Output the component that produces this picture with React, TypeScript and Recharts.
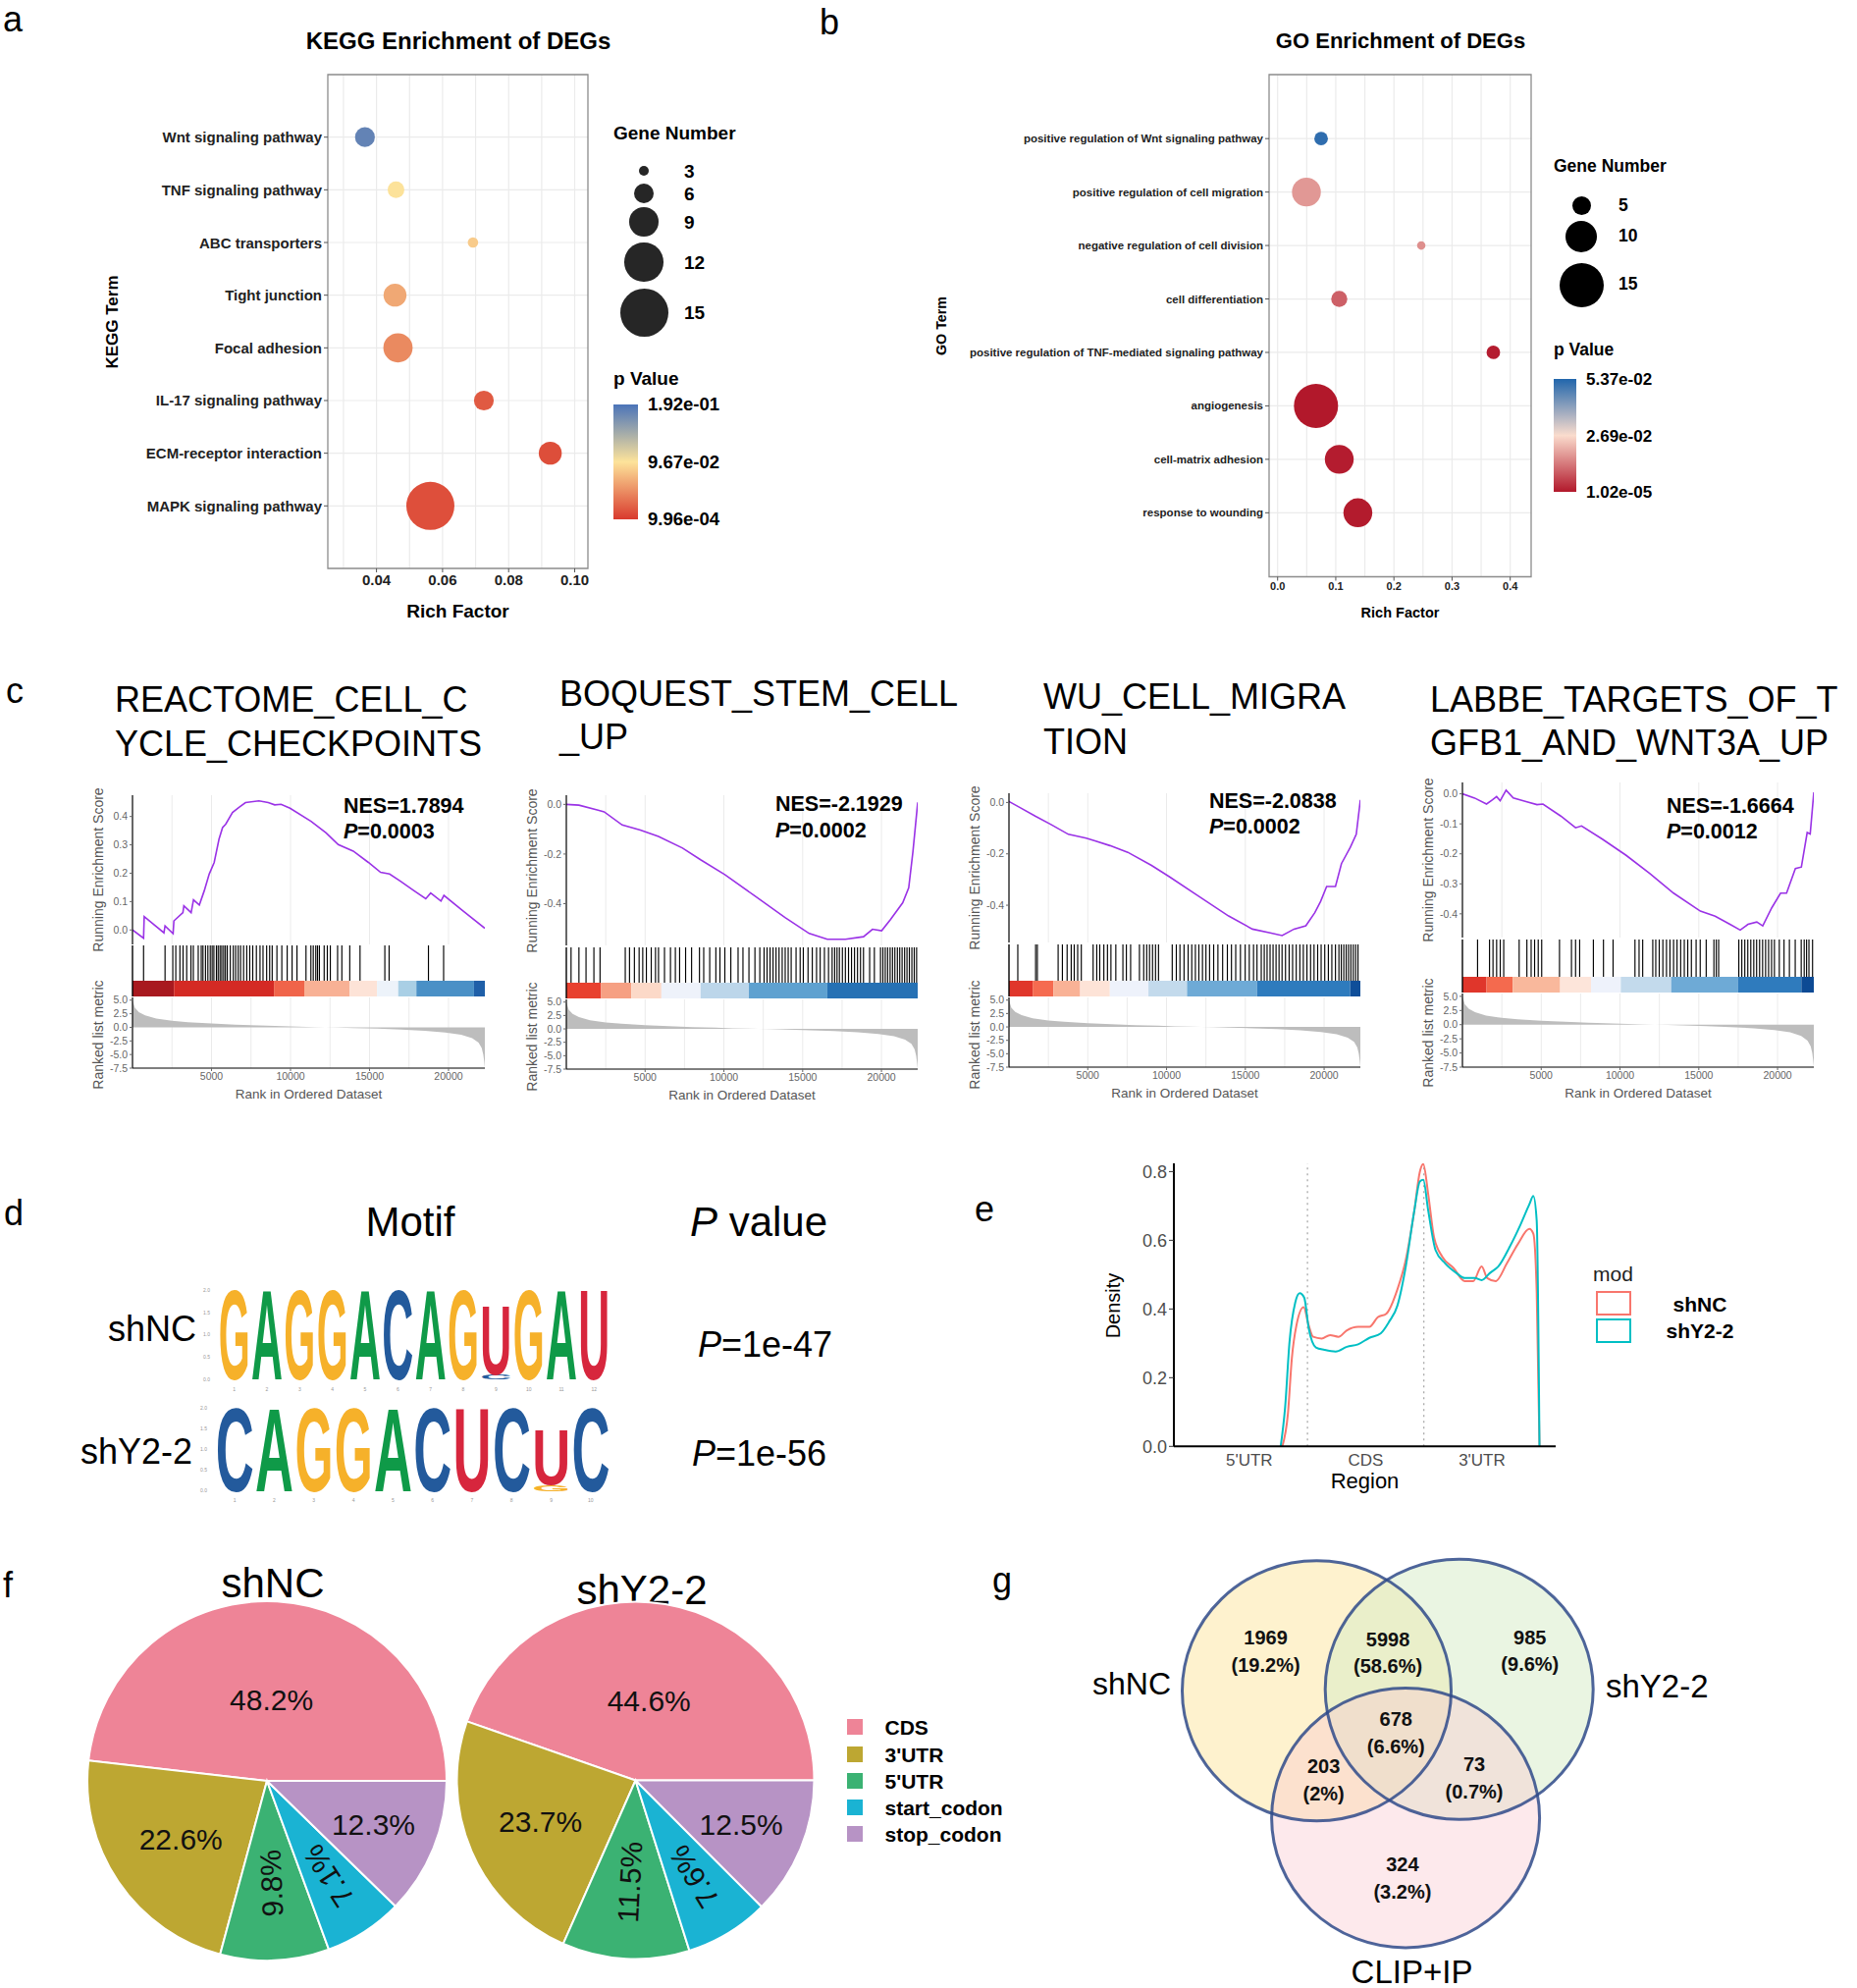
import React from 'react';
import {
  ScatterChart, Scatter, XAxis, YAxis, CartesianGrid, ReferenceArea, ReferenceLine,
  LineChart, Line, AreaChart, Area, BarChart, Bar, PieChart, Pie, Cell,
} from 'recharts';

const FONT = '"Liberation Sans", Arial, Helvetica, sans-serif';

// ---------- a: KEGG enrichment ----------
const keggTerms = ['Wnt signaling pathway', 'TNF signaling pathway', 'ABC transporters', 'Tight junction', 'Focal adhesion', 'IL-17 signaling pathway', 'ECM-receptor interaction', 'MAPK signaling pathway'];
const keggRich = [0.0365, 0.0459, 0.0692, 0.0456, 0.0465, 0.0725, 0.0926, 0.0563];
const keggGenes = [6, 5, 3, 7, 9, 6, 7, 15];
const keggP = [0.179, 0.097, 0.083, 0.063, 0.046, 0.019, 0.0125, 0.013];
const keggSizeLegend = [3, 6, 9, 12, 15];
const keggPLabels = ['1.92e-01', '9.67e-02', '9.96e-04'];

// ---------- b: GO enrichment ----------
const goTerms = ['positive regulation of Wnt signaling pathway', 'positive regulation of cell migration', 'negative regulation of cell division', 'cell differentiation', 'positive regulation of TNF-mediated signaling pathway', 'angiogenesis', 'cell-matrix adhesion', 'response to wounding'];
const goRich = [0.0748, 0.0495, 0.247, 0.106, 0.371, 0.066, 0.106, 0.138];
const goGenes = [3, 9, 1, 4, 3, 15, 9, 9];
const goP = [0.052, 0.0175, 0.0163, 0.0099, 0.0006, 0.00001, 0.0006, 0.0004];
const goSizeLegend = [5, 10, 15];
const goPLabels = ['5.37e-02', '2.69e-02', '1.02e-05'];

// ---------- c: GSEA ----------
const N_GENES = 22300;
const rankTicks = [5000, 10000, 15000, 20000];
const rankGrid = [2500, 5000, 7500, 10000, 12500, 15000, 17500, 20000];
// ranked list metric (same ranked list in all four plots)
const rankMetric = [[0, 5.0], [150, 3.6], [400, 2.8], [800, 2.2], [1500, 1.6], [2500, 1.2], [3500, 0.95], [5000, 0.7], [6500, 0.5], [8000, 0.35], [9500, 0.22], [10500, 0.12], [11500, 0.04], [12200, 0], [13000, -0.04], [14000, -0.12], [15500, -0.25], [17000, -0.42], [18500, -0.65], [19800, -0.95], [20800, -1.35], [21500, -2.0], [21900, -2.8], [22100, -3.8], [22200, -5.0], [22260, -6.3], [22300, -7.5]];

const reactomeES = [[0, 0], [700, -0.029], [740, 0.047], [1990, -0.01], [2060, 0.014], [2570, -0.013], [2620, 0.032], [3190, 0.061], [3250, 0.085], [3710, 0.061], [3860, 0.106], [4230, 0.088], [4540, 0.138], [4855, 0.197], [5170, 0.238], [5475, 0.32], [5700, 0.361], [5900, 0.373], [6330, 0.414], [6740, 0.432], [7150, 0.449], [8000, 0.455], [8590, 0.449], [9000, 0.441], [9400, 0.443], [9970, 0.429], [11300, 0.383], [12250, 0.342], [13020, 0.301], [13970, 0.278], [14930, 0.238], [15700, 0.203], [16270, 0.197], [16960, 0.172], [17800, 0.139], [18560, 0.11], [18870, 0.13], [19520, 0.102], [19710, 0.122], [20860, 0.07], [22300, 0.006]];
const reactomeHits = [700, 2060, 2550, 2740, 3000, 3200, 3430, 3700, 3850, 4160, 4350, 4460, 4620, 4770, 4920, 5040, 5150, 5310, 5420, 5540, 5650, 5770, 5880, 6000, 6190, 6380, 6530, 6690, 6840, 7030, 7230, 7420, 7610, 7840, 8070, 8260, 8490, 8680, 8840, 9140, 9450, 9790, 10100, 10410, 10980, 11290, 11440, 11600, 11710, 11830, 12130, 12330, 12520, 12980, 13250, 13750, 14400, 15970, 16240, 18730, 19690];
const reactomeEdges = [0, 2623, 8952, 10870, 13746, 15473, 16818, 17966, 21613, 22300];
const reactomeColors = ['#a8191f', '#d42a24', '#f0644a', '#f8b195', '#fde3d7', '#edf3fa', '#a9cfe5', '#4a90c6', '#1f5fa8'];

const boquestES = [[0, 0], [800, -0.003], [2016, -0.023], [2400, -0.03], [3545, -0.083], [4696, -0.103], [5847, -0.129], [7377, -0.176], [8521, -0.223], [10057, -0.283], [11967, -0.369], [13883, -0.456], [15413, -0.52], [16565, -0.543], [17708, -0.543], [18860, -0.533], [19430, -0.503], [20010, -0.509], [20580, -0.463], [21350, -0.396], [21730, -0.336], [22000, -0.189], [22300, 0.008]];
const boquestHits = [300, 800, 1250, 1750, 2140, 3740, 4010, 4320, 4620, 4850, 5080, 5390, 5660, 5850, 6230, 6610, 6920, 7190, 7570, 7950, 8450, 8720, 9100, 9490, 9750, 10060, 10440, 10900, 11210, 11590, 11970, 12280, 12550, 12740, 12930, 13120, 13310, 13500, 13700, 13890, 14080, 14270, 14580, 14840, 15040, 15340, 15610, 15880, 16110, 16380, 16640, 16870, 17030, 17180, 17330, 17520, 17710, 17910, 18100, 18290, 18480, 18670, 18860, 19250, 19550, 19940, 20090, 20240, 20390, 20550, 20700, 20850, 21010, 21160, 21310, 21470, 21620, 21770, 21930, 22080, 22230];
const boquestEdges = [0, 2208, 4124, 6033, 8521, 11588, 16564, 22300];
const boquestColors = ['#e8412f', '#f6a083', '#fcd9c8', '#eef2fa', '#bcd6ea', '#5ea1d0', '#2671b4'];

const wuES = [[0, 0.004], [674, -0.019], [1690, -0.054], [2640, -0.085], [3770, -0.124], [4900, -0.139], [5460, -0.149], [6410, -0.168], [7540, -0.194], [9045, -0.245], [10175, -0.289], [12060, -0.366], [13940, -0.442], [15450, -0.493], [16580, -0.508], [17335, -0.518], [18090, -0.493], [18840, -0.48], [19410, -0.429], [19780, -0.385], [20160, -0.327], [20720, -0.327], [21100, -0.238], [21660, -0.175], [22040, -0.124], [22300, 0.01]];
const wuHits = [560, 1690, 1800, 3120, 3390, 3690, 3950, 4140, 4360, 4590, 5340, 5570, 5760, 6020, 6250, 6470, 6780, 7230, 7450, 7720, 8280, 8550, 8740, 8920, 9110, 9300, 9490, 10360, 10620, 10850, 11110, 11370, 11600, 11830, 12050, 12280, 12500, 12730, 12990, 13260, 13560, 13860, 14120, 14390, 14690, 14990, 15250, 15520, 15740, 16010, 16200, 16380, 16570, 16760, 16950, 17140, 17330, 17550, 17780, 18000, 18230, 18460, 18680, 18910, 19140, 19360, 19590, 19810, 20040, 20270, 20490, 20720, 20940, 21090, 21250, 21400, 21550, 21700, 21850, 22000, 22150];
const wuEdges = [0, 1504, 2820, 4517, 6400, 8850, 11300, 15740, 21660, 22300];
const wuColors = ['#e0362b', '#f56b50', '#f9b296', '#fde3d7', '#eef2fb', '#c3daec', '#6eaad6', '#2e7bbd', '#0f4e99'];

const labbeES = [[0, 0], [774, -0.014], [1530, -0.034], [1910, -0.02], [2170, -0.009], [2395, -0.023], [2770, 0.012], [3225, -0.014], [3980, -0.025], [4730, -0.036], [5110, -0.034], [6240, -0.074], [7180, -0.113], [7560, -0.107], [8880, -0.151], [10390, -0.205], [11900, -0.266], [13400, -0.331], [15100, -0.391], [16040, -0.408], [16980, -0.435], [17630, -0.454], [18120, -0.435], [18680, -0.427], [19060, -0.44], [19630, -0.38], [20190, -0.331], [20570, -0.331], [21130, -0.249], [21510, -0.244], [21880, -0.129], [22070, -0.134], [22300, 0.005]];
const labbeHits = [960, 1720, 1940, 2170, 2400, 2620, 3600, 4090, 4360, 4580, 4810, 5030, 6160, 6920, 7180, 7440, 8310, 8950, 9560, 10950, 11210, 11440, 12080, 12270, 12490, 12720, 12950, 13170, 13400, 13620, 13850, 14080, 14300, 14530, 14830, 15090, 15470, 15960, 16110, 16260, 17540, 17730, 17920, 18110, 18300, 18490, 18670, 18860, 19050, 19240, 19430, 19620, 19800, 20110, 20410, 20750, 21120, 21500, 21690, 21840, 21990, 22220];
const labbeEdges = [0, 1530, 3190, 6200, 8160, 10050, 13250, 17500, 21510, 22300];
const labbeColors = ['#e0362b', '#f46a4e', '#f9b89c', '#fde5da', '#eef2fb', '#c3daec', '#6eaad6', '#2f7bbd', '#0d4a94'];

// ---------- d: motifs ----------
const ncLetters = ['G', 'A', 'G', 'G', 'A', 'C', 'A', 'G', 'U', 'G', 'A', 'U'];
const ncHeights = [2, 2, 2, 2, 2, 2, 2, 2, 1.53, 2, 2, 2];
const ncMinorLetters = ['', '', '', '', '', '', '', '', 'C', '', '', ''];
const ncMinorHeights = [0, 0, 0, 0, 0, 0, 0, 0, 0.11, 0, 0, 0];
const y2Letters = ['C', 'A', 'G', 'G', 'A', 'C', 'U', 'C', 'U', 'C'];
const y2Heights = [2, 2, 2, 2, 2, 2, 2, 2, 1.33, 2];
const y2MinorLetters = ['', '', '', '', '', '', '', '', 'G', ''];
const y2MinorHeights = [0, 0, 0, 0, 0, 0, 0, 0, 0.16, 0];

// ---------- e: metagene density ----------
const regionNames = ["5'UTR", 'CDS', "3'UTR"];
const ncDensity = [[0.784, 0], [0.832, 0.095], [0.866, 0.257], [0.905, 0.352], [0.967, 0.405], [1.011, 0.352], [1.049, 0.319], [1.122, 0.314], [1.194, 0.324], [1.266, 0.319], [1.339, 0.338], [1.435, 0.348], [1.532, 0.348], [1.604, 0.376], [1.677, 0.386], [1.773, 0.457], [1.845, 0.543], [1.918, 0.686], [1.966, 0.8], [1.995, 0.822], [2.038, 0.733], [2.087, 0.61], [2.159, 0.552], [2.256, 0.519], [2.352, 0.481], [2.424, 0.481], [2.497, 0.524], [2.545, 0.49], [2.618, 0.481], [2.714, 0.533], [2.81, 0.59], [2.907, 0.633], [2.941, 0.619], [2.97, 0.448], [2.994, 0]];
const y2Density = [[0.77, 0], [0.808, 0.114], [0.846, 0.305], [0.895, 0.419], [0.933, 0.446], [0.972, 0.433], [1.011, 0.343], [1.073, 0.288], [1.146, 0.281], [1.242, 0.276], [1.339, 0.29], [1.435, 0.297], [1.532, 0.316], [1.629, 0.329], [1.7, 0.362], [1.773, 0.41], [1.845, 0.524], [1.918, 0.686], [1.966, 0.771], [1.995, 0.776], [2.038, 0.686], [2.101, 0.571], [2.183, 0.533], [2.279, 0.505], [2.352, 0.49], [2.439, 0.49], [2.497, 0.484], [2.569, 0.505], [2.641, 0.524], [2.738, 0.581], [2.834, 0.648], [2.907, 0.705], [2.941, 0.729], [2.97, 0.657], [2.994, 0]];

// ---------- f: peak distribution ----------
const pieCats = ['CDS', "3'UTR", "5'UTR", 'start_codon', 'stop_codon'];
const shNCPie = [48.2, 22.6, 9.8, 7.1, 12.3];
const shY2Pie = [44.6, 23.7, 11.5, 7.6, 12.5];

// ---------- g: venn ----------
const vennSets = ['shNC', 'shY2-2', 'CLIP+IP'];
const vennCounts = [1969, 5998, 985, 678, 203, 73, 324];
const vennPct = ['19.2%', '58.6%', '9.6%', '6.6%', '2%', '0.7%', '3.2%'];

// ---------- styling / layout ----------
const KEGG_STOPS: [number, string][] = [[0, '#d93a2d'], [0.5, '#fde39a'], [1, '#4b74b9']];
const GO_STOPS: [number, string][] = [[0, '#b2182b'], [0.5, '#fadccd'], [1, '#2166ac']];
const LETTER_COLORS: Record<string, string> = { G: '#f6b12a', A: '#0f9a48', C: '#235a9c', U: '#d7263d' };
const PIE_COLORS = ['#ee8497', '#bda732', '#3bb273', '#1ab3d3', '#b793c5'];
const PIE_LABEL_R = [0.45, 0.58, 0.57, 0.63, 0.64];
const PIE_ROTATED = [false, false, true, true, false];
const PURPLE = '#9a32e6';
const VENN_ELLIPSES = [
  { x: 161.5, y: 152.3, rx: 137, ry: 132.5, fill: '#fde8a6', alpha: 0.55 },
  { x: 306.7, y: 150.8, rx: 136.5, ry: 132.5, fill: '#d6ebc6', alpha: 0.5 },
  { x: 252.1, y: 281.7, rx: 136.5, ry: 132.3, fill: '#f9c7d0', alpha: 0.4 },
];
const VENN_LABEL_POS = [[109.6, 112], [234.1, 113.3], [378.8, 111.2], [242.3, 194.5], [168.6, 243], [322, 240.8], [248.9, 342.5]];

const f1 = (v: number) => v.toFixed(1);
const hex = (h: string) => [1, 3, 5].map((i) => parseInt(h.slice(i, i + 2), 16));
function rampColor(stops: [number, string][], t: number) {
  const c = Math.max(0, Math.min(1, t));
  for (let i = 1; i < stops.length; i++) {
    if (c <= stops[i][0]) {
      const [t0, a] = stops[i - 1];
      const [t1, b] = stops[i];
      const k = (c - t0) / (t1 - t0);
      const A = hex(a), B = hex(b);
      return `rgb(${A.map((v, j) => Math.round(v + (B[j] - v) * k)).join(',')})`;
    }
  }
  return stops[stops.length - 1][1];
}

const Txt = ({ x, y, size, children, bold, italic, align = 'left', color = '#000', rotate = 0 }: any) => {
  const tx = align === 'left' ? '0%' : align === 'center' ? '-50%' : '-100%';
  return (
    <div style={{
      position: 'absolute', left: x, top: y, fontSize: size, lineHeight: 1, whiteSpace: 'nowrap',
      fontWeight: bold ? 700 : 400, fontStyle: italic ? 'italic' : 'normal', color,
      transform: `translate(${tx},-50%)${rotate ? ` rotate(${rotate}deg)` : ''}`,
    }}>{children}</div>
  );
};

// ---------- bubble plot (a, b) ----------
function BubblePanel(b: any) {
  const data = b.terms.map((t: string, i: number) => ({ term: t, row: i, rich: b.rich[i], genes: b.genes[i], p: b.p[i] }));
  const rows = b.terms.map((_: string, i: number) => i);
  const yDom = [-b.rowPad, b.terms.length - 1 + b.rowPad];
  return (
    <div style={{ position: 'absolute', left: b.left, top: b.top }}>
      <ScatterChart width={b.yAxisW + b.plotW + 10} height={10 + b.plotH + 30} margin={{ top: 10, right: 10, bottom: 0, left: 0 }}>
        <CartesianGrid stroke="#ebebeb" strokeWidth={1.2} verticalValues={b.xGrid} horizontalValues={rows} />
        <XAxis type="number" dataKey="rich" domain={b.xDomain} allowDataOverflow ticks={b.xTicks} interval={0}
          tickFormatter={(v: number) => v.toFixed(b.xDigits)} height={30} axisLine={false} tickSize={4}
          tickLine={{ stroke: '#555' }} tick={{ fontSize: b.xTickFont, fontWeight: 700, fill: '#222' }} />
        <YAxis type="number" dataKey="row" domain={yDom} reversed allowDataOverflow ticks={rows} interval={0}
          width={b.yAxisW} axisLine={false} tickSize={4} tickLine={{ stroke: '#555' }}
          tick={(tp: any) => (
            <text x={tp.x} y={tp.y} textAnchor="end" dominantBaseline="central" fontSize={b.tickFont} fontWeight={700} fill="#222">
              {b.terms[tp.payload.value]}
            </text>
          )} />
        <ReferenceArea x1={b.xDomain[0]} x2={b.xDomain[1]} y1={yDom[0]} y2={yDom[1]} fill="none" fillOpacity={0}
          stroke="#8c8c8c" strokeWidth={1.3} ifOverflow="visible" />
        <Scatter data={data} isAnimationActive={false}
          shape={(pp: any) => (
            <circle cx={pp.cx} cy={pp.cy} r={b.diam(pp.payload.genes) / 2}
              fill={rampColor(b.stops, (pp.payload.p - b.pMin) / (b.pMax - b.pMin))} />
          )} />
      </ScatterChart>
    </div>
  );
}

function BubbleLegend(l: any) {
  return (
    <>
      <Txt x={l.x} y={l.titleY} size={l.font} bold>Gene Number</Txt>
      {l.sizes.map((s: number, i: number) => {
        const d = l.diam(s);
        return (
          <React.Fragment key={s}>
            <div style={{ position: 'absolute', left: l.cx - d / 2, top: l.cys[i] - d / 2, width: d, height: d, borderRadius: '50%', background: l.dot }} />
            <Txt x={l.labelX} y={l.cys[i]} size={l.font} bold>{s}</Txt>
          </React.Fragment>
        );
      })}
      <Txt x={l.x} y={l.pTitleY} size={l.font} bold>p Value</Txt>
      <div style={{
        position: 'absolute', left: l.x, top: l.barTop, width: l.barW, height: l.barBottom - l.barTop,
        background: `linear-gradient(to top, ${l.stops.map((s: any) => s[1]).join(', ')})`,
      }} />
      {l.pLabels.map((t: string, i: number) => (
        <Txt key={t} x={l.x + l.barW + 10} y={l.barTop + ((l.barBottom - l.barTop) * i) / 2} size={l.font - 0.5} bold>{t}</Txt>
      ))}
    </>
  );
}

// ---------- GSEA plot (c) ----------
const YW = 34;
const PAD = 8;
const axisTick = { fontSize: 10.5, fill: '#666' };
const metricRows = rankMetric.map(([rank, m]) => ({ rank, m }));

function GseaPlot({ g }: any) {
  const w = g.right - g.left + YW;
  const esRows = g.es.map(([rank, es]: number[]) => ({ rank, es }));
  const hitRows = g.hits.map((rank: number) => ({ rank, y: 1 }));
  const bands = g.colors.map((c: string, i: number) => ({ x1: g.edges[i], x2: g.edges[i + 1], c }));
  const midH = g.barBottom - g.hitTop;
  const hitH = g.barTop - g.hitTop;
  const bandTop = (g.barBottom - g.barTop) / midH;
  return (
    <>
      <Txt x={g.titleX} y={g.titleY[0]} size={36}>{g.title[0]}</Txt>
      <Txt x={g.titleX} y={g.titleY[1]} size={36}>{g.title[1]}</Txt>
      <div style={{ position: 'absolute', left: g.left - YW, top: g.esTop - PAD }}>
        <LineChart width={w} height={g.esBottom - g.esTop + PAD} data={esRows} margin={{ top: PAD, right: 0, bottom: 0, left: 0 }}>
          <CartesianGrid horizontal={false} stroke="#ebebeb" verticalValues={rankGrid} />
          <XAxis type="number" dataKey="rank" domain={[0, N_GENES]} ticks={rankGrid} allowDataOverflow hide />
          <YAxis type="number" domain={g.esDomain} ticks={g.esTicks} interval={0} allowDataOverflow width={YW}
            tickFormatter={f1} tick={axisTick} tickSize={3} tickLine={{ stroke: '#666' }} axisLine={{ stroke: '#000', strokeWidth: 1.2 }} />
          <Line type="linear" dataKey="es" stroke={PURPLE} strokeWidth={1.6} dot={false} isAnimationActive={false} />
        </LineChart>
      </div>
      <div style={{ position: 'absolute', left: g.left - YW, top: g.hitTop }}>
        <ScatterChart width={w} height={midH} margin={{ top: 0, right: 0, bottom: 0, left: YW }}>
          <XAxis type="number" dataKey="rank" domain={[0, N_GENES]} allowDataOverflow hide />
          <YAxis type="number" dataKey="y" domain={[0, 1]} allowDataOverflow hide />
          <ReferenceLine x={0} stroke="#000" strokeWidth={1.4} ifOverflow="visible" />
          {bands.map((bd: any) => (
            <ReferenceArea key={bd.x1} x1={bd.x1} x2={bd.x2} y1={0} y2={bandTop} fill={bd.c} fillOpacity={1} stroke="none" ifOverflow="visible" />
          ))}
          <Scatter data={hitRows} isAnimationActive={false}
            shape={(pp: any) => <line x1={pp.cx} x2={pp.cx} y1={pp.cy} y2={pp.cy + hitH} stroke="#000" strokeWidth={1.15} />} />
        </ScatterChart>
      </div>
      <div style={{ position: 'absolute', left: g.left - YW, top: g.metTop - PAD }}>
        <AreaChart width={w} height={g.metBottom - g.metTop + 18 + PAD} data={metricRows} margin={{ top: PAD, right: 0, bottom: 0, left: 0 }}>
          <CartesianGrid horizontal={false} stroke="#ebebeb" verticalValues={rankGrid} />
          <XAxis type="number" dataKey="rank" domain={[0, N_GENES]} allowDataOverflow ticks={rankTicks} interval={0} height={18}
            tick={axisTick} tickSize={3} tickLine={{ stroke: '#666' }} axisLine={{ stroke: '#000', strokeWidth: 1.2 }} />
          <YAxis type="number" domain={[-7.5, 5.5]} allowDataOverflow ticks={[5, 2.5, 0, -2.5, -5, -7.5]} interval={0} width={YW}
            tickFormatter={f1} tick={axisTick} tickSize={3} tickLine={{ stroke: '#666' }} axisLine={{ stroke: '#000', strokeWidth: 1.2 }} />
          <Area type="linear" dataKey="m" stroke="none" fill="#bdbdbd" fillOpacity={1} baseValue={0} isAnimationActive={false} />
        </AreaChart>
      </div>
      <Txt x={g.left - 35} y={(g.esTop + g.esBottom) / 2} size={14} align="center" rotate={-90} color="#555">Running Enrichment Score</Txt>
      <Txt x={g.left - 35} y={(g.metTop + g.metBottom) / 2 + 2} size={14} align="center" rotate={-90} color="#555">Ranked list metric</Txt>
      <Txt x={(g.left + g.right) / 2} y={g.metBottom + 26.5} size={13.5} align="center" color="#555">Rank in Ordered Dataset</Txt>
      <Txt x={g.nesX} y={g.nesY} size={21.5} bold>{g.nes}</Txt>
      <Txt x={g.nesX} y={g.nesY + 26.5} size={21.5} bold><i>P</i>{g.p}</Txt>
    </>
  );
}

const gseaPlots = [
  { title: ['REACTOME_CELL_C', 'YCLE_CHECKPOINTS'], titleX: 117, titleY: [713, 758], nes: 'NES=1.7894', p: '=0.0003', nesX: 350, nesY: 821.5,
    left: 135, right: 494, esTop: 810, esBottom: 962, hitTop: 963, barTop: 999, barBottom: 1015, metTop: 1016, metBottom: 1088,
    esDomain: [-0.051, 0.475], esTicks: [0, 0.1, 0.2, 0.3, 0.4], es: reactomeES, hits: reactomeHits, edges: reactomeEdges, colors: reactomeColors },
  { title: ['BOQUEST_STEM_CELL', '_UP'], titleX: 570, titleY: [707, 751], nes: 'NES=-2.1929', p: '=0.0002', nesX: 790, nesY: 820,
    left: 577, right: 935, esTop: 810, esBottom: 963, hitTop: 965, barTop: 1001, barBottom: 1017, metTop: 1018, metBottom: 1089,
    esDomain: [-0.568, 0.037], esTicks: [0, -0.2, -0.4], es: boquestES, hits: boquestHits, edges: boquestEdges, colors: boquestColors },
  { title: ['WU_CELL_MIGRA', 'TION'], titleX: 1063, titleY: [710, 755.5], nes: 'NES=-2.0838', p: '=0.0002', nesX: 1232, nesY: 816.5,
    left: 1028, right: 1386, esTop: 808, esBottom: 960, hitTop: 962, barTop: 999, barBottom: 1015, metTop: 1016, metBottom: 1087,
    esDomain: [-0.545, 0.036], esTicks: [0, -0.2, -0.4], es: wuES, hits: wuHits, edges: wuEdges, colors: wuColors },
  { title: ['LABBE_TARGETS_OF_T', 'GFB1_AND_WNT3A_UP'], titleX: 1457, titleY: [713, 756.5], nes: 'NES=-1.6664', p: '=0.0012', nesX: 1698, nesY: 821.5,
    left: 1490, right: 1848, esTop: 797, esBottom: 955, hitTop: 957, barTop: 995, barBottom: 1011, metTop: 1012, metBottom: 1087,
    esDomain: [-0.479, 0.038], esTicks: [0, -0.1, -0.2, -0.3, -0.4], es: labbeES, hits: labbeHits, edges: labbeEdges, colors: labbeColors },
];

// ---------- motif logo (d) ----------
const letterShape = (which: 'major' | 'minor') => (pp: any) => {
  const { x, y, width, height, payload } = pp;
  const ch = payload[which];
  if (!ch || !height || height <= 0) return <g />;
  return (
    <text x={0} y={0} fontSize={100} fontWeight={700} textLength={100} lengthAdjust="spacingAndGlyphs"
      fill={LETTER_COLORS[ch]} transform={`translate(${x},${y + height}) scale(${width / 100},${height / 70})`}>{ch}</text>
  );
};

const LOGO_TOP = 32;
const LOGO_BOTTOM = 24;
function Logo({ letters, heights, minor, minorH, left, top, plotW, plotH }: any) {
  const rows = letters.map((l: string, i: number) => ({ pos: i + 1, major: l, majorH: heights[i], minor: minor[i], minorH: minorH[i] }));
  const tiny = { fontSize: 5, fill: '#999' };
  return (
    <div style={{ position: 'absolute', left, top: top - LOGO_TOP }}>
      <BarChart width={22 + plotW} height={plotH + 12 + LOGO_TOP + LOGO_BOTTOM} data={rows} barCategoryGap="2%"
        margin={{ top: LOGO_TOP, right: 0, bottom: LOGO_BOTTOM, left: 0 }}>
        <XAxis dataKey="pos" height={12} axisLine={false} tickLine={false} tick={tiny} interval={0} />
        <YAxis type="number" domain={[0, 2]} ticks={[0, 0.5, 1, 1.5, 2]} width={22} axisLine={false} tickLine={false} tick={tiny} tickFormatter={f1} />
        <Bar dataKey="minorH" stackId="s" isAnimationActive={false} shape={letterShape('minor')} />
        <Bar dataKey="majorH" stackId="s" isAnimationActive={false} shape={letterShape('major')} />
      </BarChart>
    </div>
  );
}

// ---------- pie labels (f) ----------
const pieLabel = (pp: any) => {
  const RAD = Math.PI / 180;
  const r = pp.outerRadius * PIE_LABEL_R[pp.index];
  const x = pp.cx + r * Math.cos(-pp.midAngle * RAD);
  const y = pp.cy + r * Math.sin(-pp.midAngle * RAD);
  const rot = PIE_ROTATED[pp.index] ? 180 - pp.midAngle : 0;
  return (
    <text x={x} y={y} transform={`rotate(${rot},${x},${y})`} textAnchor="middle" dominantBaseline="central"
      fontSize={30} fill="#111">{`${pp.value}%`}</text>
  );
};

export default function App() {
  const ncPieRows = pieCats.map((name, i) => ({ name, value: shNCPie[i] }));
  const y2PieRows = pieCats.map((name, i) => ({ name, value: shY2Pie[i] }));
  const ncDensRows = ncDensity.map(([x, d]) => ({ x, d }));
  const y2DensRows = y2Density.map(([x, d]) => ({ x, d }));
  const vennShapes = vennSets.map((name, i) => ({ name, ...VENN_ELLIPSES[i] }));
  const vennRegions = vennCounts.map((n, i) => ({ n, pct: vennPct[i], x: VENN_LABEL_POS[i][0], y: VENN_LABEL_POS[i][1] }));
  const kDiam = (n: number) => 1 + 3.2 * n;
  const gDiam = (n: number) => 6 + 2.6 * n;

  return (
    <div style={{ position: 'absolute', left: 0, top: 0, width: 1892, height: 2025, background: '#fff', fontFamily: FONT, overflow: 'hidden' }}>
      {/* panel letters */}
      <Txt x={13} y={19.5} size={36} align="center">a</Txt>
      <Txt x={845} y={22.5} size={36} align="center">b</Txt>
      <Txt x={15} y={704} size={36} align="center">c</Txt>
      <Txt x={14} y={1236} size={36} align="center">d</Txt>
      <Txt x={1003} y={1232} size={36} align="center">e</Txt>
      <Txt x={8} y={1615} size={36} align="center">f</Txt>
      <Txt x={1021} y={1610} size={36} align="center">g</Txt>

      {/* a */}
      <Txt x={467} y={42} size={24} bold align="center">KEGG Enrichment of DEGs</Txt>
      <BubblePanel terms={keggTerms} rich={keggRich} genes={keggGenes} p={keggP} pMin={9.96e-4} pMax={0.192} stops={KEGG_STOPS}
        diam={kDiam} left={130} top={66} yAxisW={204} plotW={265} plotH={503} rowPad={1.187}
        xDomain={[0.02526, 0.104]} xTicks={[0.04, 0.06, 0.08, 0.1]} xGrid={[0.03, 0.04, 0.05, 0.06, 0.07, 0.08, 0.09, 0.1]}
        xDigits={2} tickFont={15} xTickFont={15} />
      <Txt x={466.5} y={621.5} size={19} bold align="center">Rich Factor</Txt>
      <Txt x={114} y={328} size={17} bold align="center" rotate={-90}>KEGG Term</Txt>
      <BubbleLegend x={625} titleY={134.5} font={19} sizes={keggSizeLegend} diam={kDiam} cx={656} cys={[174, 197, 226, 267, 318]}
        labelX={697} dot="#262626" pTitleY={385} barTop={412} barBottom={529} barW={25} stops={KEGG_STOPS} pLabels={keggPLabels} />

      {/* b */}
      <Txt x={1427} y={42} size={22} bold align="center">GO Enrichment of DEGs</Txt>
      <BubblePanel terms={goTerms} rich={goRich} genes={goGenes} p={goP} pMin={1.02e-5} pMax={5.37e-2} stops={GO_STOPS}
        diam={gDiam} left={968} top={66} yAxisW={325} plotW={267} plotH={511.5} rowPad={1.197}
        xDomain={[-0.0147, 0.436]} xTicks={[0, 0.1, 0.2, 0.3, 0.4]} xGrid={[0, 0.05, 0.1, 0.15, 0.2, 0.25, 0.3, 0.35, 0.4]}
        xDigits={1} tickFont={11.5} xTickFont={11} />
      <Txt x={1426.5} y={623.5} size={14.5} bold align="center">Rich Factor</Txt>
      <Txt x={959} y={332} size={14.3} bold align="center" rotate={-90}>GO Term</Txt>
      <BubbleLegend x={1583} titleY={170} font={17.5} sizes={goSizeLegend} diam={gDiam} cx={1611} cys={[209.6, 241, 290]}
        labelX={1649} dot="#000" pTitleY={357} barTop={386} barBottom={501} barW={23} stops={GO_STOPS} pLabels={goPLabels} />

      {/* c */}
      {gseaPlots.map((g) => <GseaPlot key={g.title[0]} g={g} />)}

      {/* d */}
      <Txt x={418} y={1244.5} size={42} align="center">Motif</Txt>
      <Txt x={773} y={1244.5} size={42} align="center"><i>P</i> value</Txt>
      <Logo letters={ncLetters} heights={ncHeights} minor={ncMinorLetters} minorH={ncMinorHeights} left={200} top={1314} plotW={400} plotH={91} />
      <Logo letters={y2Letters} heights={y2Heights} minor={y2MinorLetters} minorH={y2MinorHeights} left={197} top={1434} plotW={403} plotH={84.5} />
      <Txt x={200} y={1353.5} size={36} align="right">shNC</Txt>
      <Txt x={196} y={1479} size={36} align="right">shY2-2</Txt>
      <Txt x={711} y={1370} size={36}><i>P</i>=1e-47</Txt>
      <Txt x={705} y={1480.5} size={36}><i>P</i>=1e-56</Txt>

      {/* e */}
      <div style={{ position: 'absolute', left: 1145.5, top: 1175 }}>
        <LineChart width={444} height={328.3} margin={{ top: 10, right: 5, bottom: 0, left: 0 }}>
          <XAxis type="number" dataKey="x" domain={[-0.148, 3.133]} allowDataOverflow ticks={[0.5, 1.5, 2.5]} interval={0}
            tickFormatter={(v: number) => regionNames[Math.floor(v)]} height={30} tickLine={false}
            axisLine={{ stroke: '#000', strokeWidth: 2 }} tick={{ fontSize: 17, fill: '#4d4d4d' }} />
          <YAxis type="number" domain={[0, 0.824]} allowDataOverflow ticks={[0, 0.2, 0.4, 0.6, 0.8]} interval={0} width={50}
            tickFormatter={f1} axisLine={{ stroke: '#000', strokeWidth: 2 }} tickLine={{ stroke: '#333' }} tickSize={5}
            tick={{ fontSize: 18, fill: '#4d4d4d' }} />
          <ReferenceLine x={1} stroke="#aaa" strokeWidth={1.3} strokeDasharray="2 4" />
          <ReferenceLine x={2} stroke="#aaa" strokeWidth={1.3} strokeDasharray="2 4" />
          <Line data={ncDensRows} dataKey="d" type="monotone" stroke="#f8766d" strokeWidth={2} dot={false} isAnimationActive={false} />
          <Line data={y2DensRows} dataKey="d" type="monotone" stroke="#00bfc4" strokeWidth={2} dot={false} isAnimationActive={false} />
        </LineChart>
      </div>
      <Txt x={1134} y={1330} size={20} align="center" rotate={-90}>Density</Txt>
      <Txt x={1390.5} y={1509} size={22} align="center">Region</Txt>
      <Txt x={1623} y={1297} size={21} color="#222">mod</Txt>
      <div style={{ position: 'absolute', left: 1626, top: 1315, width: 32, height: 21, border: '2px solid #f8766d' }} />
      <div style={{ position: 'absolute', left: 1626, top: 1343, width: 32, height: 21, border: '2px solid #00bfc4' }} />
      <Txt x={1732} y={1328} size={21} bold align="center">shNC</Txt>
      <Txt x={1732} y={1355} size={21} bold align="center">shY2-2</Txt>

      {/* f */}
      <Txt x={278} y={1613} size={42} align="center">shNC</Txt>
      <Txt x={654} y={1620} size={42} align="center">shY2-2</Txt>
      <div style={{ position: 'absolute', left: 60, top: 1620 }}>
        <PieChart width={800} height={400} margin={{ top: 0, right: 0, bottom: 0, left: 0 }}>
          <Pie data={ncPieRows} dataKey="value" nameKey="name" cx={212} cy={194} outerRadius={183} startAngle={0} endAngle={360}
            stroke="#fff" strokeWidth={2} label={pieLabel} labelLine={false} isAnimationActive={false}>
            {ncPieRows.map((r, i) => <Cell key={r.name} fill={PIE_COLORS[i]} />)}
          </Pie>
          <Pie data={y2PieRows} dataKey="value" nameKey="name" cx={587.5} cy={193.5} outerRadius={182} startAngle={0} endAngle={360}
            stroke="#fff" strokeWidth={2} label={pieLabel} labelLine={false} isAnimationActive={false}>
            {y2PieRows.map((r, i) => <Cell key={r.name} fill={PIE_COLORS[i]} />)}
          </Pie>
        </PieChart>
      </div>
      {pieCats.map((c, i) => {
        const cy = 1759.3 + i * 27.25;
        return (
          <React.Fragment key={c}>
            <div style={{ position: 'absolute', left: 863, top: cy - 8, width: 16, height: 16, background: PIE_COLORS[i] }} />
            <Txt x={901.5} y={cy} size={21} bold>{c}</Txt>
          </React.Fragment>
        );
      })}

      {/* g */}
      <div style={{ position: 'absolute', left: 1180, top: 1570 }}>
        <ScatterChart width={480} height={455} margin={{ top: 0, right: 0, bottom: 0, left: 0 }}>
          <XAxis type="number" dataKey="x" domain={[0, 480]} allowDataOverflow hide />
          <YAxis type="number" dataKey="y" domain={[0, 455]} reversed allowDataOverflow hide />
          <Scatter data={vennShapes} isAnimationActive={false}
            shape={(pp: any) => <ellipse cx={pp.cx} cy={pp.cy} rx={pp.payload.rx} ry={pp.payload.ry} fill={pp.payload.fill} fillOpacity={pp.payload.alpha} stroke="none" />} />
          <Scatter data={vennShapes} isAnimationActive={false}
            shape={(pp: any) => <ellipse cx={pp.cx} cy={pp.cy} rx={pp.payload.rx} ry={pp.payload.ry} fill="none" stroke="#2f4a8a" strokeWidth={3} strokeOpacity={0.85} />} />
          <Scatter data={vennRegions} isAnimationActive={false}
            shape={(pp: any) => (
              <g fontWeight={700} fontSize={20} fill="#111" textAnchor="middle">
                <text x={pp.cx} y={pp.cy - 6.6}>{pp.payload.n}</text>
                <text x={pp.cx} y={pp.cy + 21}>{`(${pp.payload.pct})`}</text>
              </g>
            )} />
        </ScatterChart>
      </div>
      <Txt x={1193} y={1715} size={32} align="right">{vennSets[0]}</Txt>
      <Txt x={1636} y={1716.5} size={33}>{vennSets[1]}</Txt>
      <Txt x={1438.5} y={2008} size={33} align="center">{vennSets[2]}</Txt>
    </div>
  );
}
